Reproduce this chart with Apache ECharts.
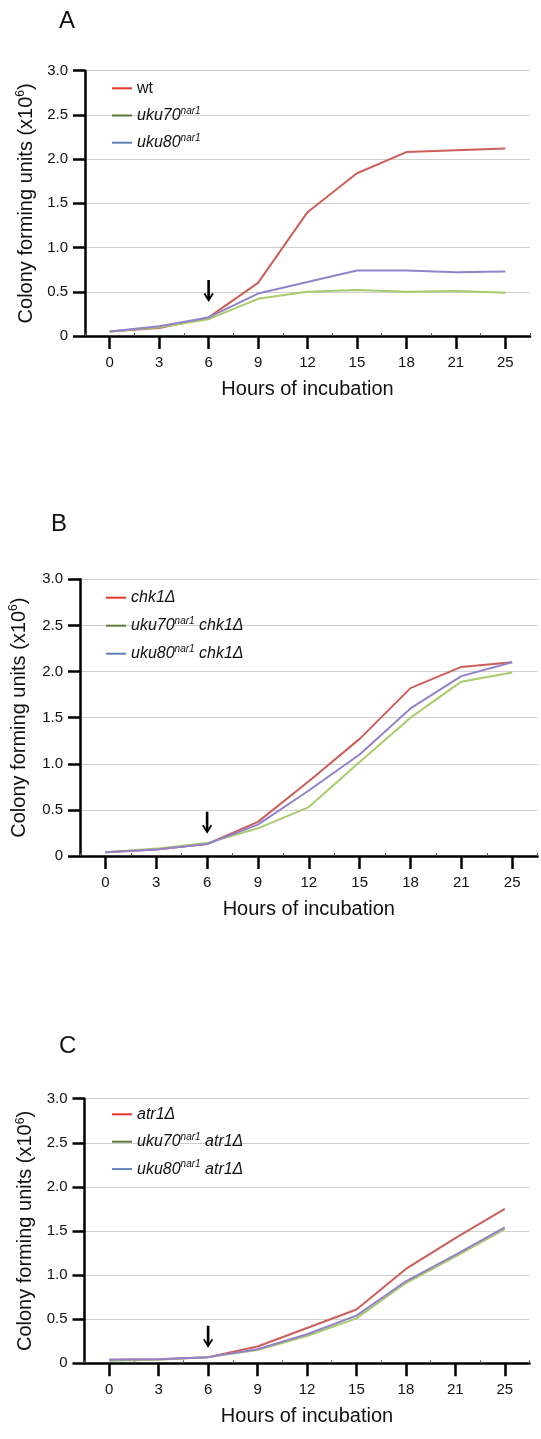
<!DOCTYPE html>
<html>
<head>
<meta charset="utf-8">
<script src="https://cdn.jsdelivr.net/npm/echarts@6/dist/echarts.min.js"></script>
<style>
html,body{margin:0;padding:0;background:#fff;}
#chart{width:541px;height:1439px;}
</style>
</head>
<body>
<div id="chart"></div>
<script>
// ---- data ----
const hours = ['0','3','6','9','12','15','18','21','25'];
const yTickValues = [0, 0.5, 1.0, 1.5, 2.0, 2.5, 3.0];
const panelLetters = ['A','B','C'];

const wtA    = [0.05,0.09,0.21,0.60,1.40,1.84,2.08,2.10,2.12];
const uku70A = [0.05,0.10,0.19,0.42,0.50,0.52,0.50,0.51,0.49];
const uku80A = [0.05,0.11,0.21,0.48,0.61,0.74,0.74,0.72,0.73];

const chk1B      = [0.04,0.07,0.13,0.37,0.81,1.27,1.82,2.05,2.10];
const uku70chk1B = [0.04,0.08,0.14,0.30,0.53,1.02,1.50,1.89,1.99];
const uku80chk1B = [0.04,0.07,0.13,0.34,0.71,1.10,1.60,1.95,2.10];

const atr1C      = [0.04,0.045,0.07,0.19,0.40,0.61,1.07,1.42,1.75];
const uku70atr1C = [0.03,0.04,0.07,0.15,0.31,0.51,0.91,1.21,1.52];
const uku80atr1C = [0.04,0.045,0.07,0.16,0.33,0.54,0.93,1.23,1.54];

const arrowHour = '6';
const arrowLevels = [0.51, 0.36, 0.30];

const namesA = ['wt','uku70nar1','uku80nar1'];
const namesB = ['chk1Δ','uku70nar1 chk1Δ','uku80nar1 chk1Δ'];
const namesC = ['atr1Δ','uku70nar1 atr1Δ','uku80nar1 atr1Δ'];

// ---- styling ----
const FONT = '"Liberation Sans", Arial, Helvetica, sans-serif';
const lineColors = ['#cc5f5a', '#a9cb6c', '#9282c9'];
const legendColors = ['#e8352b', '#627a3e', '#5d80b5'];

const grids = [
  {left: 85,   top: 70.7,   width: 445, height: 265.3},
  {left: 77.6, top: 579.3,  width: 460, height: 276.7},
  {left: 84.5, top: 1098.7, width: 445, height: 264.6}
];
const yNameGaps = [48, 50, 48];
const titlePos = [{left: 59, top: 9}, {left: 51, top: 512}, {left: 59, top: 1034}];
const legendPos = [
  {left: 112, top: 78.3, gap: 7.2},
  {left: 106, top: 587.7, gap: 8},
  {left: 112, top: 1104.3, gap: 7.4}
];

const panels = [
  {names: namesA, data: [wtA, uku70A, uku80A]},
  {names: namesB, data: [chk1B, uku70chk1B, uku80chk1B]},
  {names: namesC, data: [atr1C, uku70atr1C, uku80atr1C]}
];

function legendLabel(name) {
  if (name === 'wt') return '{n|wt}';
  const m = name.match(/^(uku\d0)nar1(.*)$/);
  if (m) return '{i|' + m[1] + '}{s|nar1}' + (m[2] ? '{i|' + m[2] + '}' : '');
  return '{i|' + name + '}';
}

const richLegend = {
  n: {fontSize: 16, fontFamily: FONT, color: '#111', lineHeight: 20},
  i: {fontSize: 16, fontFamily: FONT, fontStyle: 'italic', color: '#111', lineHeight: 20},
  s: {fontSize: 10, fontFamily: FONT, fontStyle: 'italic', color: '#111', lineHeight: 20, padding: [0, 0, 9, 0]}
};

const arrowPath = 'path://M3.7,0 L6.3,0 L6.3,16.6 L8.5,12.8 L10,14 L5,22 L0,14 L1.5,12.8 L3.7,16.6 Z';

const option = {
  animation: false,
  backgroundColor: '#fff',
  title: panelLetters.map((t, k) => ({
    text: t, left: titlePos[k].left, top: titlePos[k].top, padding: 0,
    textStyle: {fontSize: 24, fontWeight: 'normal', fontFamily: FONT, color: '#111'}
  })),
  grid: grids.map(g => Object.assign({containLabel: false}, g)),
  legend: panels.map((p, k) => ({
    orient: 'vertical',
    left: legendPos[k].left, top: legendPos[k].top,
    padding: 0, itemGap: legendPos[k].gap,
    itemWidth: 20, itemHeight: 2, icon: 'rect',
    selectedMode: false,
    data: p.names.map((nm, j) => ({name: nm, itemStyle: {color: legendColors[j]}})),
    formatter: legendLabel,
    textStyle: {rich: richLegend, fontFamily: FONT, fontSize: 16, lineHeight: 20}
  })),
  xAxis: [].concat(
    grids.map((g, k) => ({
      type: 'category', gridIndex: k, data: hours, boundaryGap: true,
      name: 'Hours of incubation', nameLocation: 'middle', nameGap: 43,
      nameTextStyle: {fontSize: 20, fontFamily: FONT, color: '#111'},
      axisLine: {show: true, lineStyle: {color: '#000', width: 2.5}},
      axisTick: {show: true, alignWithLabel: true, length: 13, lineStyle: {color: '#000', width: 2.5}},
      axisLabel: {margin: 19, fontSize: 15, fontFamily: FONT, color: '#111'},
      splitLine: {show: false}
    })),
    grids.map((g, k) => ({
      type: 'category', gridIndex: k, data: hours, boundaryGap: true, position: 'bottom',
      axisLine: {show: false},
      axisTick: {show: true, inside: true, alignWithLabel: false, length: 3, lineStyle: {color: '#555', width: 1}},
      axisLabel: {show: false},
      splitLine: {show: false}
    }))
  ),
  yAxis: grids.map((g, k) => ({
    type: 'value', gridIndex: k, min: 0, max: 3, interval: 0.5,
    name: 'Colony forming units (x10{s|6})', nameLocation: 'middle', nameGap: yNameGaps[k],
    nameTextStyle: {fontSize: 20, fontFamily: FONT, color: '#111',
      rich: {s: {fontSize: 12, fontFamily: FONT, color: '#111', padding: [0, 0, 10, 0]}}},
    axisLine: {show: true, lineStyle: {color: '#000', width: 2.5}},
    axisTick: {show: true, length: 12, lineStyle: {color: '#000', width: 2.5}},
    axisLabel: {margin: 17, fontSize: 15, fontFamily: FONT, color: '#111',
      formatter: v => (v === 0 ? '0' : v.toFixed(1))},
    splitLine: {show: true, lineStyle: {color: '#cfcfcf', width: 1}}
  })),
  series: []
};

panels.forEach((p, k) => {
  p.names.forEach((nm, j) => {
    const s = {
      type: 'line', name: nm, xAxisIndex: k, yAxisIndex: k,
      data: p.data[j], symbol: 'none', z: 3 + j,
      lineStyle: {color: lineColors[j], width: 2},
      itemStyle: {color: legendColors[j]}
    };
    if (j === 0) {
      s.markPoint = {
        symbol: arrowPath, symbolSize: [10, 22], silent: true,
        itemStyle: {color: '#000'}, label: {show: false},
        data: [{coord: [arrowHour, arrowLevels[k]]}]
      };
    }
    option.series.push(s);
  });
});

const chart = echarts.init(document.getElementById('chart'), null, {renderer: 'canvas'});
chart.setOption(option);
</script>
</body>
</html>
